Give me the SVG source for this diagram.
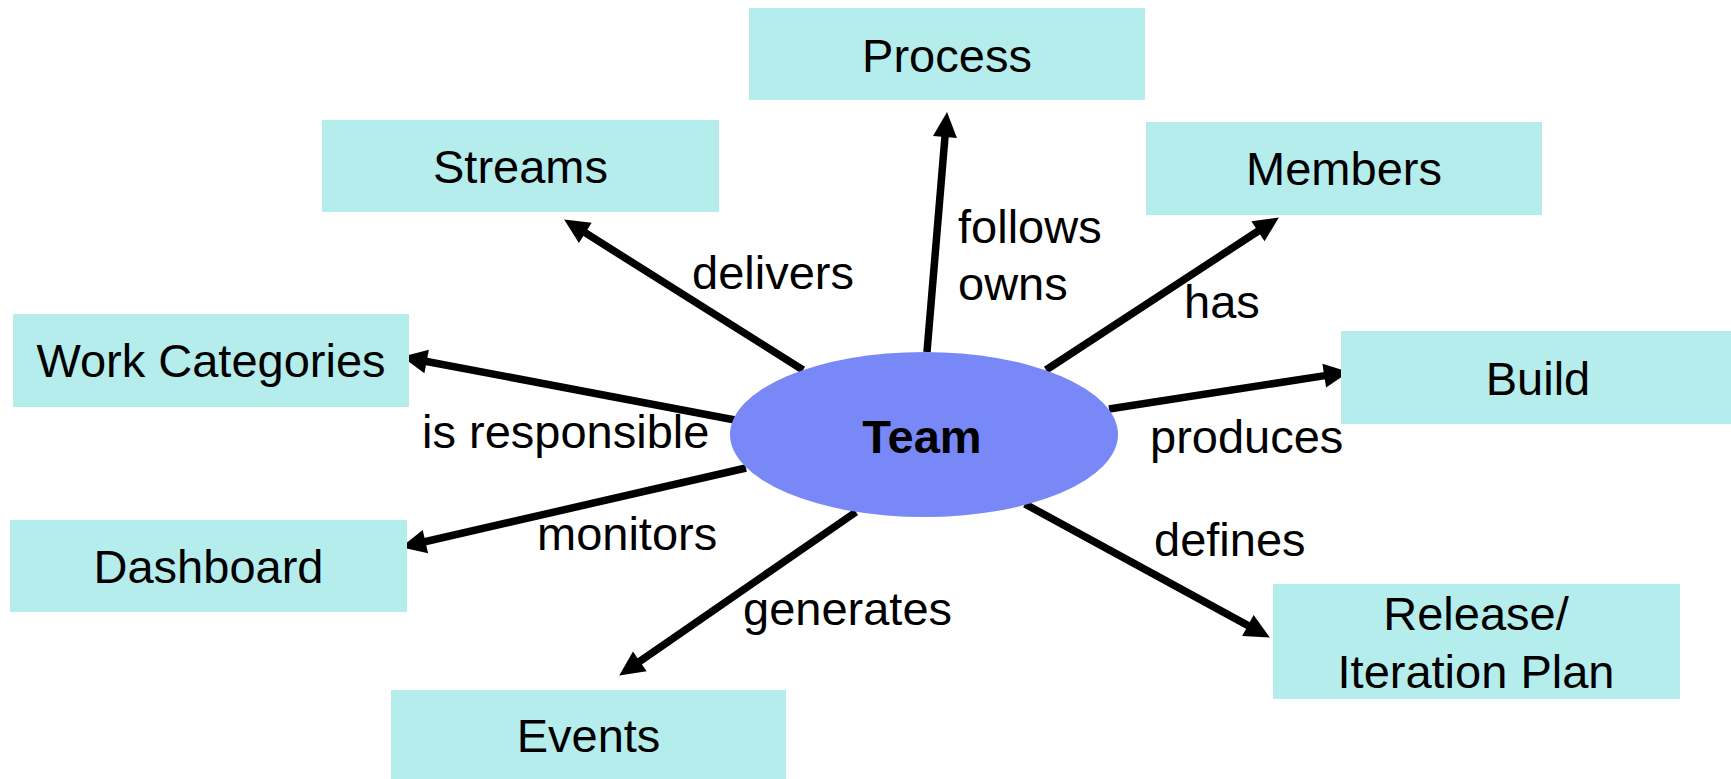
<svg xmlns="http://www.w3.org/2000/svg" width="1731" height="779" viewBox="0 0 1731 779">
<style>
.box{fill:#b5ecec}
.t{font-family:"Liberation Sans",Arial,sans-serif;font-size:47px;fill:#000}
.c{text-anchor:middle}
.ln{stroke:#000;stroke-width:7.5;fill:none}
</style>
<defs>
<marker id="ah" markerUnits="userSpaceOnUse" markerWidth="25" markerHeight="24" refX="4" refY="12" orient="auto" overflow="visible">
<path d="M0,0 L25,12 L0,24 z" fill="#000"/>
</marker>
</defs>
<rect width="1731" height="779" fill="#fff"/>
<g id="connectors">
<line class="ln" x1="927" y1="352" x2="945.3" y2="132.9" marker-end="url(#ah)"/>
<line class="ln" x1="1046" y1="370" x2="1261.3" y2="229" marker-end="url(#ah)"/>
<line class="ln" x1="1109" y1="409" x2="1328.2" y2="375.1" marker-end="url(#ah)"/>
<line class="ln" x1="1025" y1="504" x2="1251.4" y2="627.4" marker-end="url(#ah)"/>
<line class="ln" x1="856" y1="512" x2="636.5" y2="663.6" marker-end="url(#ah)"/>
<line class="ln" x1="746" y1="468" x2="421.5" y2="542.5" marker-end="url(#ah)"/>
<line class="ln" x1="735" y1="420" x2="422.7" y2="360.7" marker-end="url(#ah)"/>
<line class="ln" x1="803" y1="370" x2="581.9" y2="230.7" marker-end="url(#ah)"/>
<text class="t" x="958" y="243">follows</text>
<text class="t" x="958" y="300">owns</text>
<text class="t" x="1184" y="318">has</text>
<text class="t" x="692" y="289">delivers</text>
<text class="t" x="422" y="448">is responsible</text>
<text class="t" x="1150" y="453">produces</text>
<text class="t" x="1154" y="556">defines</text>
<text class="t" x="537" y="550">monitors</text>
<text class="t" x="743" y="625">generates</text>
</g>
<g id="team">
<ellipse cx="924" cy="434.5" rx="194" ry="82.5" fill="#7889f7"/>
<text class="t c" x="922" y="453" font-weight="bold">Team</text>
</g>
<g id="process">
<rect class="box" x="749" y="8" width="396" height="92"/>
<text class="t c" x="947" y="72">Process</text>
</g>
<g id="members">
<rect class="box" x="1146" y="122" width="396" height="93"/>
<text class="t c" x="1344" y="185">Members</text>
</g>
<g id="streams">
<rect class="box" x="322" y="120" width="397" height="92"/>
<text class="t c" x="520.5" y="183">Streams</text>
</g>
<g id="work-categories">
<rect class="box" x="13" y="314" width="396" height="93"/>
<text class="t c" x="211" y="377">Work Categories</text>
</g>
<g id="build">
<rect class="box" x="1341" y="331" width="390" height="93"/>
<text class="t c" x="1538" y="395">Build</text>
</g>
<g id="release">
<rect class="box" x="1273" y="584" width="407" height="115"/>
<text class="t c" x="1476" y="630">Release/</text>
<text class="t c" x="1476" y="688">Iteration Plan</text>
</g>
<g id="dashboard">
<rect class="box" x="10" y="520" width="397" height="92"/>
<text class="t c" x="208.5" y="583">Dashboard</text>
</g>
<g id="events">
<rect class="box" x="391" y="690" width="395" height="89"/>
<text class="t c" x="588.5" y="752">Events</text>
</g>
</svg>
